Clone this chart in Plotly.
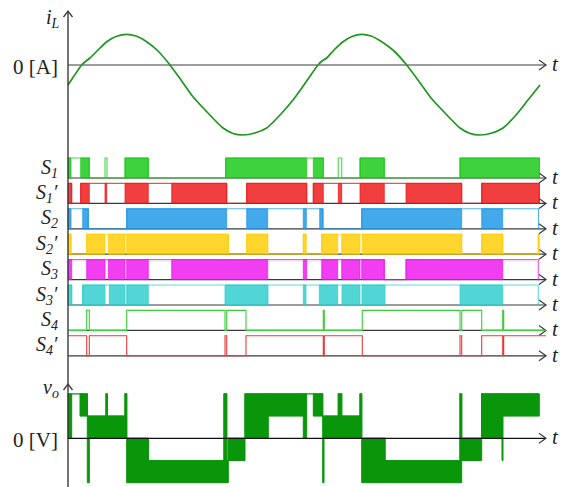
import plotly.graph_objects as go

# ---------------- data (time in arbitrary units, 0 = origin) ----------------
iL_t = [0, 6, 13.7, 18, 22, 30, 38.7, 48, 58.7, 68, 78.7, 90, 102, 113, 125, 140, 155, 165,
        175, 187, 198.7, 212, 225, 238, 250, 254, 258.7, 266, 275, 284, 293.7, 303, 313.7,
        326, 338.7, 350, 362, 377, 392, 402, 412, 424, 435, 448, 460, 472]
iL_val = [-2.0, -1.1, 0, 0.4, 0.7, 1.5, 2.33, 2.85, 3.07, 2.9, 2.33, 1.4, 0, -1.5, -3.17,
          -4.8, -6.3, -6.85, -7.0, -6.8, -6.3, -5.0, -3.5, -1.7, 0, 0.4, 0.7, 1.5, 2.33,
          2.85, 3.07, 2.9, 2.33, 1.4, 0, -1.5, -3.17, -4.8, -6.3, -6.85, -7.0, -6.8, -6.3,
          -5.0, -3.5, -2.0]

# switching states: 1 = on, 0 = off, 'P' = PWM switching interval
S1_edges = [0, 3, 12.7, 21.3, 37, 39, 57, 80.3, 157.7, 238.7, 245.3, 255.3, 270.3, 273.7,
            292, 316.3, 392, 471.3, 471.5]
S1_states = ['P', 1, 'P', 0, 1, 0, 'P', 0, 'P', 1, 'P', 0, 1, 0, 'P', 0, 'P', 0]

S1p_edges = [0, 3.7, 12.7, 21.3, 37, 38.7, 57, 80.3, 103.7, 158.7, 178.7, 238.7, 245.3,
             255.3, 270.3, 273.7, 292, 316.3, 338, 393.7, 413.7, 471.3, 471.5]
S1p_states = ['P', 0, 'P', 1, 'P', 1, 'P', 1, 'P', 0, 'P', 0, 'P', 1, 'P', 1, 'P', 1, 'P',
              0, 'P', 0]

S2_edges = [0, 3, 14.7, 20.3, 58.7, 158.7, 178.7, 199.7, 235.3, 238.3, 251.7, 255, 293.7,
            393.7, 413.7, 434.7, 470.5, 471.5]
S2_states = ['P', 1, 'P', 0, 'P', 1, 'P', 1, 'P', 1, 'P', 0, 'P', 1, 'P', 1, 0]

S2p_edges = [0, 3, 18.7, 37, 40.3, 57, 58.7, 160.3, 178.7, 199.7, 235.3, 238, 253.7, 269.7,
             273.7, 292, 294.3, 393.7, 413.7, 434.7, 470.3, 471.3]
S2p_states = ['P', 0, 'P', 1, 'P', 1, 'P', 0, 'P', 0, 'P', 0, 'P', 1, 'P', 1, 'P', 0, 'P',
              0, 'P']

S3_edges = [0, 3.7, 18.7, 37, 40.3, 57, 58.7, 80.3, 103.7, 199.7, 235.3, 238.7, 253.7,
            269.7, 273.7, 292, 293.7, 316.3, 338, 434.7, 470.3, 471.3]
S3_states = ['P', 1, 'P', 1, 'P', 1, 'P', 1, 'P', 1, 'P', 1, 'P', 1, 'P', 1, 'P', 0, 'P',
             1, 0]

S3p_edges = [0, 3.7, 14.7, 37, 41.3, 57, 58.7, 80.3, 157, 200, 235.3, 238, 251.3, 269.7,
             274, 292, 294, 317, 392, 434.7, 470.3, 471.3]
S3p_states = ['P', 0, 'P', 1, 'P', 1, 'P', 1, 'P', 1, 'P', 1, 'P', 1, 'P', 1, 'P', 1, 'P',
              1, 0]

S4_edges = [0, 18.7, 21.3, 58.7, 157, 158.7, 178, 255.3, 256.3, 294.3, 392, 393.7, 413.7,
            434.7, 435.7, 478]
S4_states = [0, 1, 0, 1, 0, 1, 0, 1, 0, 1, 0, 1, 0, 1, 0]

S4p_edges = [0, 18.7, 21.3, 58.7, 157, 158.7, 178, 255.3, 256.3, 294.3, 392, 393.7, 413.7,
             434.7, 435.7, 478]
S4p_states = [1, 0, 1, 0, 1, 0, 1, 0, 1, 0, 1, 0, 1, 0, 1]

# output voltage: each interval switches between levels lo..hi (levels -2..2)
VO_edges = [0, 3.7, 12, 19.3, 21.3, 38, 39.3, 57, 58.7, 80.3, 156, 158.7, 160.3, 177, 200.3,
            235.3, 238.7, 245.3, 254.7, 256, 270.3, 273.7, 292, 293.7, 317, 392, 393.7,
            413.7, 434, 435, 471.3]
VO_lo = [0, 2, 1, -2, 0, 0, 0, 0, -2, -2, -2, -2, -1, 0, 1, 0, 2, 1, -2, 0, 0, 0, 0, -2, -2,
         -2, -1, 0, -1, 1]
VO_hi = [2, 2, 2, 1, 1, 2, 1, 2, 0, -1, 2, -1, 0, 2, 2, 2, 2, 2, 1, 1, 2, 1, 2, 0, -1, 2, 0,
         2, 2, 2]

SIG_LABELS = ["<i>S</i><sub><i>1</i></sub>", "<i>S</i><sub><i>1</i></sub><i>′</i>",
              "<i>S</i><sub><i>2</i></sub>", "<i>S</i><sub><i>2</i></sub><i>′</i>",
              "<i>S</i><sub><i>3</i></sub>", "<i>S</i><sub><i>3</i></sub><i>′</i>",
              "<i>S</i><sub><i>4</i></sub>", "<i>S</i><sub><i>4</i></sub><i>′</i>"]
SIG_COLORS = ["#14c814", "#ee1515", "#1a96e6", "#ffcc00", "#ee14ee", "#2ccccc",
              "#3ccc3c", "#e23c3c"]
SIG_PWM_STYLE = [True, True, True, True, True, True, False, False]

# ---------------- layout constants ----------------
X0 = 68          # pixel position of origin
W, H = 570, 487
T_TIP = 478      # axis arrow tip (time units)
IL_ZERO = 65
IL_SCALE = 10
ROW_BASE0 = 178
ROW_PITCH = 25.4
ROW_H = 20
VO_ZERO = 438.3
VO_STEP = 22.2
AXIS_COL = "#3a3a3a"
FONT = "Liberation Serif"
VO_COL = "#0a960a"

signals = [(S1_edges, S1_states), (S1p_edges, S1p_states), (S2_edges, S2_states),
           (S2p_edges, S2p_states), (S3_edges, S3_states), (S3p_edges, S3p_states),
           (S4_edges, S4_states), (S4p_edges, S4p_states)]


def rgba(hexc, a):
    h = hexc.lstrip('#')
    return "rgba(%d,%d,%d,%.2f)" % (int(h[0:2], 16), int(h[2:4], 16), int(h[4:6], 16), a)


fig = go.Figure()
shapes = []
annotations = []


def arrow_right(y):
    shapes.append(dict(type="line", xref="x", yref="y", x0=0, x1=T_TIP, y0=y, y1=y,
                       line=dict(color=AXIS_COL, width=1.2), layer="below"))
    shapes.append(dict(type="path", xref="x", yref="y",
                       path="M %f %f L %f %f L %f %f" % (T_TIP - 7, y - 5, T_TIP, y, T_TIP - 7, y + 5),
                       line=dict(color=AXIS_COL, width=1.2), layer="below"))
    annotations.append(dict(x=T_TIP + 4, y=y - 1, xref="x", yref="y", text="<i>t</i>",
                            showarrow=False, xanchor="left", yanchor="middle",
                            font=dict(family=FONT, size=21, color="#222")))


def arrow_up(y):
    shapes.append(dict(type="path", xref="x", yref="y",
                       path="M %f %f L %f %f L %f %f" % (-4.5, y + 6, 0, y, 4.5, y + 6),
                       line=dict(color=AXIS_COL, width=1.3)))


# vertical axis
shapes.append(dict(type="line", xref="x", yref="y", x0=0, x1=0, y0=11, y1=H,
                   line=dict(color=AXIS_COL, width=1.4)))
arrow_up(11)
arrow_up(384)

# current panel
arrow_right(IL_ZERO)
fig.add_trace(go.Scatter(x=iL_t, y=[IL_ZERO - v * IL_SCALE for v in iL_val], mode="lines",
                         line=dict(color="#1f961f", width=1.7, shape="spline", smoothing=0.6),
                         hoverinfo="skip"))
annotations.append(dict(x=-6, y=18, xref="x", yref="y", text="<i>i</i><sub><i>L</i></sub>",
                        showarrow=False, xanchor="right", yanchor="middle",
                        font=dict(family=FONT, size=20, color="#222")))
annotations.append(dict(x=-8, y=67, xref="x", yref="y", text="0 [A]",
                        showarrow=False, xanchor="right", yanchor="middle",
                        font=dict(family=FONT, size=21, color="#222")))

# switching signals
for i, (edges, states) in enumerate(signals):
    base = ROW_BASE0 + i * ROW_PITCH
    top = base - ROW_H
    col = SIG_COLORS[i]
    arrow_right(base)
    # PWM blocks
    px, py = [], []
    for k, st in enumerate(states):
        if st == 'P':
            a, b = edges[k], edges[k + 1]
            px += [a, b, b, a, a, None]
            py += [base, base, top, top, base, None]
    if px:
        fig.add_trace(go.Scatter(x=px, y=py, mode="lines", fill="toself",
                                 fillcolor=rgba(col, 0.82),
                                 line=dict(color=rgba(col, 0.9), width=0.8),
                                 hoverinfo="skip"))
    # step line
    xs, ys = [], []
    for k, st in enumerate(states):
        lvl = top if st in (1, 'P') else base
        xs += [edges[k], edges[k + 1]]
        ys += [lvl, lvl]
    fig.add_trace(go.Scatter(x=xs, y=ys, mode="lines",
                             line=dict(color=rgba(col, 0.75) if SIG_PWM_STYLE[i] else col,
                                       width=1.1),
                             hoverinfo="skip"))
    annotations.append(dict(x=-8, y=base - ROW_H / 2, xref="x", yref="y", text=SIG_LABELS[i],
                            showarrow=False, xanchor="right", yanchor="middle",
                            font=dict(family=FONT, size=20, color="#222")))

# output voltage panel
vx, vy = [], []
for k in range(len(VO_lo)):
    a, b = VO_edges[k], VO_edges[k + 1]
    lo = VO_ZERO - VO_lo[k] * VO_STEP
    hi = VO_ZERO - VO_hi[k] * VO_STEP
    if VO_lo[k] != VO_hi[k]:
        vx += [a, b, b, a, a, None]
        vy += [lo, lo, hi, hi, lo, None]
fig.add_trace(go.Scatter(x=vx, y=vy, mode="lines", fill="toself", fillcolor=VO_COL,
                         line=dict(color=VO_COL, width=1), hoverinfo="skip"))
ex, ey = [], []
for k in range(len(VO_hi)):
    lvl = VO_ZERO - VO_hi[k] * VO_STEP
    ex += [VO_edges[k], VO_edges[k + 1]]
    ey += [lvl, lvl]
fig.add_trace(go.Scatter(x=ex, y=ey, mode="lines", line=dict(color=VO_COL, width=1.2),
                         hoverinfo="skip"))
# zero axis of v_o drawn on top
shapes.append(dict(type="line", xref="x", yref="y", x0=0, x1=T_TIP, y0=VO_ZERO, y1=VO_ZERO,
                   line=dict(color="#111", width=1.2)))
shapes.append(dict(type="path", xref="x", yref="y",
                   path="M %f %f L %f %f L %f %f" % (T_TIP - 7, VO_ZERO - 5, T_TIP, VO_ZERO,
                                                     T_TIP - 7, VO_ZERO + 5),
                   line=dict(color=AXIS_COL, width=1.2)))
annotations.append(dict(x=T_TIP + 4, y=VO_ZERO - 1, xref="x", yref="y", text="<i>t</i>",
                        showarrow=False, xanchor="left", yanchor="middle",
                        font=dict(family=FONT, size=21, color="#222")))
annotations.append(dict(x=-7, y=388, xref="x", yref="y", text="<i>v</i><sub><i>o</i></sub>",
                        showarrow=False, xanchor="right", yanchor="middle",
                        font=dict(family=FONT, size=20, color="#222")))
annotations.append(dict(x=-8, y=440, xref="x", yref="y", text="0 [V]",
                        showarrow=False, xanchor="right", yanchor="middle",
                        font=dict(family=FONT, size=21, color="#222")))

fig.update_layout(
    width=W, height=H, margin=dict(l=0, r=0, t=0, b=0),
    paper_bgcolor="white", plot_bgcolor="white", showlegend=False,
    xaxis=dict(range=[-X0, W - X0], visible=False, fixedrange=True),
    yaxis=dict(range=[H, 0], visible=False, fixedrange=True),
    shapes=shapes, annotations=annotations,
)

fig.write_html("out.html")
